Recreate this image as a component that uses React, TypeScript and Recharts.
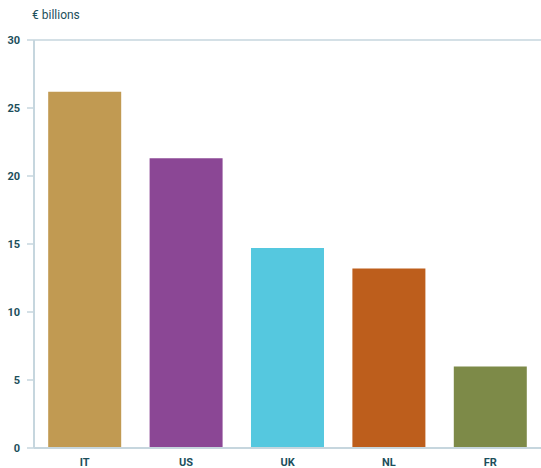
import React from "react";
import { BarChart, Bar, XAxis, YAxis, Cell, ReferenceLine } from "recharts";

const categories = ["IT", "US", "UK", "NL", "FR"];
const values = [26.2, 21.3, 14.7, 13.2, 6.0];
const colors = ["#c19a52", "#8b4795", "#55c8df", "#bd5e1c", "#7d8a48"];
const yTicks = [0, 5, 10, 15, 20, 25, 30];
const boundaryTicks = [0, 1, 2, 3, 4, 5];
const unitLabel = "€ billions";

const data = categories.map((c, i) => ({ name: c, value: values[i] }));

const TEXT = "#1d4f5c";
const AXIS = "#c6d6de";
const FONT = "Roboto, 'Liberation Sans', sans-serif";

export default function App() {
  return (
    <div style={{ position: "absolute", left: 0, top: 0, width: 541, height: 468, background: "#fff" }}>
      <div
        style={{
          position: "absolute",
          left: 32,
          top: 8,
          fontFamily: FONT,
          fontSize: 12,
          color: TEXT,
          lineHeight: "14px",
        }}
      >
        {unitLabel}
      </div>
      <BarChart
        width={541}
        height={468}
        data={data}
        margin={{ top: 40, right: 0, left: 0, bottom: 0 }}
        barCategoryGap="14%"
      >
        <XAxis
          xAxisId="bounds"
          type="number"
          domain={[0, 5]}
          ticks={boundaryTicks}
          allowDataOverflow
          axisLine={false}
          tick={false}
          tickLine={{ stroke: AXIS, strokeWidth: 1.5 }}
          tickSize={7}
          height={0}
        />
        <XAxis
          xAxisId="cat"
          dataKey="name"
          axisLine={{ stroke: AXIS, strokeWidth: 2 }}
          tickLine={false}
          height={20}
          tick={{ fill: TEXT, fontSize: 11, fontWeight: 700, fontFamily: FONT }}
          tickMargin={4}
          interval={0}
        />
        <YAxis
          domain={[0, 30]}
          ticks={yTicks}
          width={34}
          axisLine={{ stroke: AXIS, strokeWidth: 2 }}
          tickLine={{ stroke: AXIS, strokeWidth: 1.5 }}
          tickSize={7}
          tickMargin={7}
          tick={{ fill: TEXT, fontSize: 11, fontWeight: 700, fontFamily: FONT }}
          interval={0}
        />
        <ReferenceLine xAxisId="cat" y={30} stroke={AXIS} strokeWidth={1.5} />
        <Bar xAxisId="cat" dataKey="value" isAnimationActive={false}>
          {data.map((d, i) => (
            <Cell key={d.name} fill={colors[i]} />
          ))}
        </Bar>
      </BarChart>
    </div>
  );
}
